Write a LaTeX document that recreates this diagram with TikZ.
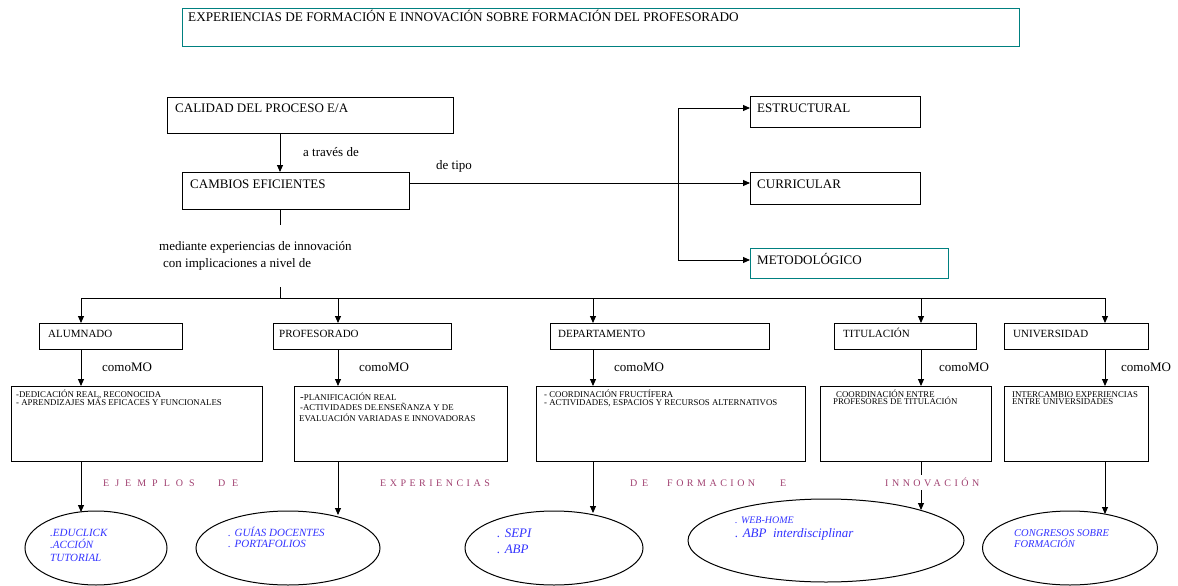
\documentclass[tikz,border=0pt]{standalone}
\usepackage{fontspec}
\setmainfont{Liberation Serif}
\usetikzlibrary{arrows.meta,shapes.geometric}
\definecolor{boxteal}{RGB}{0,128,128}
\definecolor{inkblue}{RGB}{51,51,255}
\definecolor{mauve}{RGB}{160,64,112}
\tikzset{
  box/.style={draw, line width=1pt, inner sep=0pt, anchor=north west},
  lbl/.style={anchor=base west, inner sep=0pt},
  big/.style={font=\fontsize{13}{15}\selectfont},
  mid/.style={font=\fontsize{11}{13}\selectfont},
  tiny/.style={font=\fontsize{8.8}{9}\selectfont},
  ital/.style={text=inkblue, font=\fontsize{11}{13}\selectfont\itshape},
  italbig/.style={text=inkblue, font=\fontsize{13}{15}\selectfont\itshape},
  word/.style={anchor=base west, inner sep=0pt, text=mauve,
    font=\fontsize{10}{12}\selectfont\addfontfeature{LetterSpace=#1}},
  arr/.style={-{Triangle[length=7pt,width=6pt]}, line width=0.9pt},
  ln/.style={line width=0.9pt},
  ell/.style={draw, ellipse, line width=1pt, inner sep=0pt},
}
\begin{document}
\begin{tikzpicture}[x=1pt,y=-1pt]
\useasboundingbox (0,0) rectangle (1178,586);

% title
\node[box, draw=boxteal, minimum width=837, minimum height=38] (title) at (182,8) {};
\node[lbl, font=\fontsize{13.2}{15}\selectfont] (titletext) at (188,21.5) {EXPERIENCIAS DE FORMACIÓN E INNOVACIÓN SOBRE FORMACIÓN DEL PROFESORADO};

% upper chain
\node[box, minimum width=286, minimum height=36] (calidad) at (167,97) {};
\node[lbl, big] (calidadtext) at (175,112.5) {CALIDAD DEL PROCESO E/A};
\node[box, minimum width=227, minimum height=37] (cambios) at (182,172) {};
\node[lbl, big] (cambiostext) at (190,188.5) {CAMBIOS EFICIENTES};
\node[lbl, big] (atraves) at (303,156) {a través de};
\node[lbl, big] (detipo) at (436,169.5) {de tipo};
\node[lbl, big] (mediante1) at (159,250) {mediante experiencias de innovación};
\node[lbl, big] (mediante2) at (163,267) {con implicaciones a nivel de};

% types of change
\node[box, minimum width=170, minimum height=31] (estructural) at (750,96) {};
\node[lbl, big] (estructuraltext) at (757,112.5) {ESTRUCTURAL};
\node[box, minimum width=170, minimum height=32] (curricular) at (750,172) {};
\node[lbl, big] (curriculartext) at (757,188.5) {CURRICULAR};
\node[box, draw=boxteal, minimum width=198, minimum height=30] (metod) at (750,248) {};
\node[lbl, big] (metodtext) at (757,264.5) {METODOLÓGICO};

\coordinate (ax) at (280,0);
\coordinate (ty) at (0,183);
\coordinate (b1) at (678,108);
\coordinate (b3) at (678,260);
\draw[arr] (calidad.south -| ax) -- (cambios.north -| ax);
\draw[arr] (cambios.east |- ty) -- (curricular.west |- ty);
\draw[ln] (b1) -- (b3);
\draw[arr] (b1) -- (estructural.west |- b1);
\draw[arr] (b3) -- (metod.west |- b3);

% levels
\coordinate (m1) at (280,225);
\coordinate (m2) at (280,287);
\coordinate (busL) at (81,298);
\coordinate (busR) at (1105,298);
\draw[ln] (cambios.south -| ax) -- (m1);
\draw[ln] (m2) -- (280,298);
\draw[ln] (busL) -- (busR);

\node[box, minimum width=143, minimum height=26] (alum) at (39,323) {};
\node[lbl, mid] (alumtext) at (48,337.6) {ALUMNADO};
\node[box, minimum width=178, minimum height=26] (prof) at (273,323) {};
\node[lbl, mid] (proftext) at (279,337.6) {PROFESORADO};
\node[box, minimum width=219, minimum height=26] (dept) at (550,323) {};
\node[lbl, mid] (depttext) at (558,337.6) {DEPARTAMENTO};
\node[box, minimum width=142, minimum height=26] (titu) at (834,323) {};
\node[lbl, mid] (titutext) at (843,337.6) {TITULACIÓN};
\node[box, minimum width=144, minimum height=26] (univ) at (1004,323) {};
\node[lbl, mid] (univtext) at (1013,337.6) {UNIVERSIDAD};

\coordinate (xa) at (81,0);
\coordinate (xp) at (338,0);
\coordinate (xd) at (593,0);
\coordinate (xt) at (921,0);
\coordinate (xu) at (1105,0);
\foreach \c/\n in {xa/alum, xp/prof, xd/dept, xt/titu, xu/univ}
  \draw[arr] (busL -| \c) -- (\n.north -| \c);

% descriptions
\node[box, minimum width=251, minimum height=75] (alumd) at (11,386) {};
\node[box, minimum width=213, minimum height=75] (profd) at (294,386) {};
\node[box, minimum width=269, minimum height=75] (deptd) at (536,386) {};
\node[box, minimum width=171, minimum height=75] (titud) at (820,386) {};
\node[box, minimum width=144, minimum height=75] (univd) at (1004,386) {};
\foreach \c/\a/\b in {xa/alum/alumd, xp/prof/profd, xd/dept/deptd, xt/titu/titud, xu/univ/univd}
  \draw[arr] (\a.south -| \c) -- (\b.north -| \c);

\node[lbl, big] (como1) at (102,371) {comoMO};
\node[lbl, big] (como2) at (359,371) {comoMO};
\node[lbl, big] (como3) at (614,371) {comoMO};
\node[lbl, big] (como4) at (939,371) {comoMO};
\node[lbl, big] (como5) at (1121,371) {comoMO};

\node[lbl, tiny] (a1) at (16,397) {-DEDICACIÓN REAL, RECONOCIDA};
\node[lbl, tiny] (a2) at (16,405) {- APRENDIZAJES MÁS EFICACES Y FUNCIONALES};
\node[lbl, tiny] (p1) at (300,400) {{\fontsize{11}{11}\selectfont -}PLANIFICACIÓN REAL};
\node[lbl, tiny] (p2) at (300,410.5) {-ACTIVIDADES DE.ENSEÑANZA Y DE};
\node[lbl, tiny] (p3) at (299,421) {EVALUACIÓN VARIADAS E INNOVADORAS};
\node[lbl, tiny] (d1) at (544,397) {- COORDINACIÓN FRUCTÍFERA};
\node[lbl, tiny] (d2) at (544,405) {- ACTIVIDADES, ESPACIOS Y RECURSOS ALTERNATIVOS};
\node[lbl, tiny] (t1) at (836,397) {COORDINACIÓN ENTRE};
\node[lbl, tiny] (t2) at (833,404.5) {PROFESORES DE TITULACIÓN};
\node[lbl, tiny] (u1) at (1012,397) {INTERCAMBIO EXPERIENCIAS};
\node[lbl, tiny] (u2) at (1012,404.5) {ENTRE UNIVERSIDADES};

% examples
\node[ell, minimum width=142, minimum height=74] (e1) at (96,548) {};
\node[ell, minimum width=184, minimum height=74] (e2) at (288,548) {};
\node[ell, minimum width=178, minimum height=74] (e3) at (554,548) {};
\node[ell, minimum width=276, minimum height=83] (e4) at (826,540.5) {};
\node[ell, minimum width=175, minimum height=74] (e5) at (1070,548) {};

\coordinate (tip1) at (81,512);
\coordinate (tip2) at (338,515);
\coordinate (tip3) at (593,513);
\coordinate (tip4) at (921,510);
\coordinate (tip5) at (1105,514);
\draw[arr] (alumd.south -| xa) -- (tip1);
\draw[arr] (profd.south -| xp) -- (tip2);
\draw[arr] (deptd.south -| xd) -- (tip3);
\draw[arr] (titud.south -| xt) -- (tip4);
\draw[arr] (univd.south -| xu) -- (tip5);

\node[lbl, ital] (e1a) at (50,536) {.EDUCLICK};
\node[lbl, ital] (e1b) at (50,548) {.ACCIÓN};
\node[lbl, ital] (e1c) at (50,561) {TUTORIAL};
\node[lbl, ital] (e2a) at (228,536) {. GUÍAS DOCENTES};
\node[lbl, ital] (e2b) at (228,547.5) {. PORTAFOLIOS};
\node[lbl, italbig] (e3a) at (497,537.5) {. SEPI};
\node[lbl, italbig] (e3b) at (497,553.5) {. ABP};
\node[lbl, text=inkblue, font=\fontsize{10}{12}\selectfont\itshape] (e4a) at (735,523.5) {. WEB-HOME};
\node[lbl, italbig] (e4b) at (735,537) {. ABP\ \ interdisciplinar};
\node[lbl, text=inkblue, font=\fontsize{10.5}{12}\selectfont\itshape] (e5a) at (1014,536) {CONGRESOS SOBRE};
\node[lbl, text=inkblue, font=\fontsize{10.5}{12}\selectfont\itshape] (e5b) at (1014,547) {FORMACIÓN};

% spaced caption across the row
\node[word=60] (w1) at (103,486.5) {EJEMPLOS};
\node[word=67] (w2) at (218,486.5) {DE};
\node[word=35] (w3) at (380,486.5) {EXPERIENCIAS};
\node[word=47] (w4) at (630,486.5) {DE};
\node[word=35] (w5) at (667,486.5) {FORMACION};
\node[word=35] (w6) at (780,486.5) {E};
\node[word=35, fill=white, inner xsep=2pt, inner ysep=3pt] (w7) at (883,486.5) {INNOVACIÓN};
\end{tikzpicture}
\end{document}
